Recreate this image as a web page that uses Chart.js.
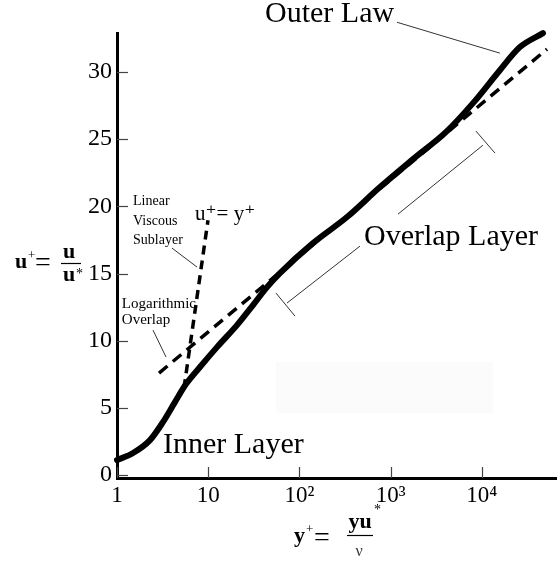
<!DOCTYPE html>
<html><head><meta charset="utf-8">
<script src="https://cdn.jsdelivr.net/npm/chart.js@4.4.1/dist/chart.umd.min.js"></script>
<style>html,body{margin:0;padding:0;background:#fff;overflow:hidden}#wrap{width:557px;height:562px;position:relative}</style>
</head><body><div id="wrap"><canvas id="c" width="557" height="562"></canvas></div>
<script>
// ---- data ----
// measured velocity profile (y+ on log axis, u+ linear)
const profileYPlus = [1.00, 1.50, 2.30, 3.19, 4.32, 5.71, 8.13, 12.5, 20.7, 31.0, 44.2, 61.3, 141, 333, 766, 1762, 4150, 8010, 15800, 26200, 46900];
const profileUPlus = [1.12, 1.64, 2.60, 3.94, 5.43, 6.77, 8.04, 9.52, 11.16, 12.65, 13.99, 15.03, 17.26, 19.20, 21.43, 23.51, 25.60, 27.68, 30.13, 31.85, 32.89];
// logarithmic overlap law (dashed, straight on the log plot)
const logLawYPlus = [2.89, 51900];
const logLawUPlus = [7.59, 31.70];
// linear viscous sublayer u+ = y+ (dashed)
const linearYPlus = [5.43, 9.95];
const linearUPlus = [6.47, 18.97];
// axes
const xTickValues = [1, 10, 100, 1000, 10000];
const xTickLabels = ['1', '10', '10\u00b2', '10\u00b3', '10\u2074'];
const yTickValues = [0, 5, 10, 15, 20, 25, 30];

// ---- annotations (anchored in data units) ----
const textNotes = [
  {text: 'Outer Law', x: 42, y: 33.7, size: 30},
  {text: 'Overlap Layer', x: 511, y: 17.11, size: 30},
  {text: 'Inner Layer', x: 3.19, y: 1.64, size: 30},
  {text: 'u\u207a= y\u207a', x: 7.17, y: 18.97, size: 21},
  {text: 'Linear', x: 1.50, y: 20.09, size: 14},
  {text: 'Viscous', x: 1.50, y: 18.60, size: 14},
  {text: 'Sublayer', x: 1.50, y: 17.19, size: 14},
  {text: 'Logarithmic', x: 1.13, y: 12.43, size: 15},
  {text: 'Overlap', x: 1.13, y: 11.24, size: 15}
];
const leaderLines = [
  [[1175, 33.7], [15800, 31.4]],
  [[1206, 19.42], [10300, 24.55]],
  [[8630, 25.60], [13960, 23.96]],
  [[462, 17.04], [73.1, 12.80]],
  [[55.4, 13.54], [89.5, 11.83]],
  [[4.01, 16.89], [7.54, 15.48]],
  [[2.48, 10.79], [3.45, 8.78]]
];
const shadeBox = {x0: 55.4, x1: 13270, y0: 4.61, y1: 8.41};

const SERIF = "'Liberation Serif','Times New Roman','DejaVu Serif',serif";
const toPts = (xs, ys) => xs.map((x, i) => ({x: x, y: ys[i]}));

const decor = {
  id: 'decor',
  beforeDatasetsDraw(chart) {
    const {ctx, scales: {x, y}} = chart;
    ctx.save();
    ctx.fillStyle = '#fbfbfb';
    const px0 = x.getPixelForValue(shadeBox.x0), px1 = x.getPixelForValue(shadeBox.x1);
    const py0 = y.getPixelForValue(shadeBox.y1), py1 = y.getPixelForValue(shadeBox.y0);
    ctx.fillRect(px0, py0, px1 - px0, py1 - py0);
    ctx.restore();
  },
  afterDatasetsDraw(chart) {
    const {ctx, chartArea: ca, scales: {x, y}} = chart;
    ctx.save();
    // inward tick marks
    ctx.strokeStyle = '#444'; ctx.lineWidth = 1.2;
    y.ticks.forEach(t => {
      const p = Math.round(y.getPixelForValue(t.value)) + 0.5;
      ctx.beginPath(); ctx.moveTo(ca.left, p); ctx.lineTo(ca.left + 11, p); ctx.stroke();
    });
    x.ticks.forEach(t => {
      const p = Math.round(x.getPixelForValue(t.value)) + 0.5;
      ctx.beginPath(); ctx.moveTo(p, ca.bottom); ctx.lineTo(p, ca.bottom - 11); ctx.stroke();
    });
    // leader lines
    ctx.strokeStyle = '#333'; ctx.lineWidth = 1;
    leaderLines.forEach(seg => {
      ctx.beginPath();
      ctx.moveTo(x.getPixelForValue(seg[0][0]), y.getPixelForValue(seg[0][1]));
      ctx.lineTo(x.getPixelForValue(seg[1][0]), y.getPixelForValue(seg[1][1]));
      ctx.stroke();
    });
    // text notes
    ctx.fillStyle = '#000'; ctx.textAlign = 'left'; ctx.textBaseline = 'alphabetic';
    textNotes.forEach(n => {
      ctx.font = n.size + 'px ' + SERIF;
      ctx.fillText(n.text, x.getPixelForValue(n.x), y.getPixelForValue(n.y));
    });
    // y-axis title: u+ = u / u*
    const B = 'bold 22px ' + SERIF;
    ctx.font = B; ctx.fillText('u', 15, 268);
    ctx.font = '13px ' + SERIF; ctx.fillText('+', 28, 259);
    ctx.font = '28px ' + SERIF; ctx.fillText('=', 35, 271);
    ctx.textAlign = 'center';
    ctx.font = B; ctx.fillText('u', 69, 258); ctx.fillText('u', 69, 281);
    ctx.textAlign = 'left';
    ctx.font = '14px ' + SERIF; ctx.fillText('*', 76, 278);
    ctx.strokeStyle = '#000'; ctx.lineWidth = 1.2;
    ctx.beginPath(); ctx.moveTo(61, 263.5); ctx.lineTo(81, 263.5); ctx.stroke();
    // x-axis title: y+ = y u* / nu
    ctx.font = B; ctx.fillText('y', 294, 542);
    ctx.font = '13px ' + SERIF; ctx.fillText('+', 306, 533);
    ctx.font = '28px ' + SERIF; ctx.fillText('=', 314, 546);
    ctx.textAlign = 'center';
    ctx.font = B; ctx.fillText('yu', 360, 528);
    ctx.textAlign = 'left';
    ctx.font = '14px ' + SERIF; ctx.fillText('*', 374, 514);
    ctx.beginPath(); ctx.moveTo(347, 535.5); ctx.lineTo(373, 535.5); ctx.stroke();
    ctx.textAlign = 'center'; ctx.fillStyle = '#333';
    ctx.font = '16px ' + SERIF; ctx.fillText('\u03bd', 359, 556);
    ctx.restore();
  }
};

new Chart(document.getElementById('c'), {
  type: 'line',
  data: {
    datasets: [
      {label: 'profile', data: toPts(profileYPlus, profileUPlus), borderColor: '#000', borderWidth: 6,
       pointRadius: 0, cubicInterpolationMode: 'monotone', borderCapStyle: 'round', borderJoinStyle: 'round', clip: false, fill: false},
      {label: 'log law', data: toPts(logLawYPlus, logLawUPlus), borderColor: '#000', borderWidth: 3.5,
       borderDash: [11, 7], pointRadius: 0, clip: false, fill: false},
      {label: 'linear', data: toPts(linearYPlus, linearUPlus), borderColor: '#000', borderWidth: 3.5,
       borderDash: [9, 6], pointRadius: 0, clip: false, fill: false}
    ]
  },
  options: {
    responsive: false, animation: false, devicePixelRatio: 1,
    layout: {padding: {top: 33, left: 0, right: 0, bottom: 0}},
    plugins: {legend: {display: false}, tooltip: {enabled: false}, title: {display: false}},
    scales: {
      x: {
        type: 'logarithmic', min: 1, max: 66800,
        grid: {display: false, drawTicks: false},
        border: {display: true, color: '#000', width: 3},
        afterBuildTicks: s => { s.ticks = xTickValues.map(v => ({value: v})); },
        afterFit: s => { s.height = 84; },
        ticks: {
          autoSkip: false, maxRotation: 0, padding: 4, color: '#000',
          font: {family: SERIF, size: 23},
          callback: (v, i) => xTickLabels[i]
        }
      },
      y: {
        type: 'linear', min: -0.22, max: 32.9,
        grid: {display: false, drawTicks: false},
        border: {display: true, color: '#000', width: 3},
        afterBuildTicks: s => { s.ticks = yTickValues.map(v => ({value: v})); },
        afterFit: s => { s.width = 117; },
        ticks: {padding: 5, color: '#000', font: {family: SERIF, size: 24}}
      }
    }
  },
  plugins: [decor]
});
</script>
</body></html>
